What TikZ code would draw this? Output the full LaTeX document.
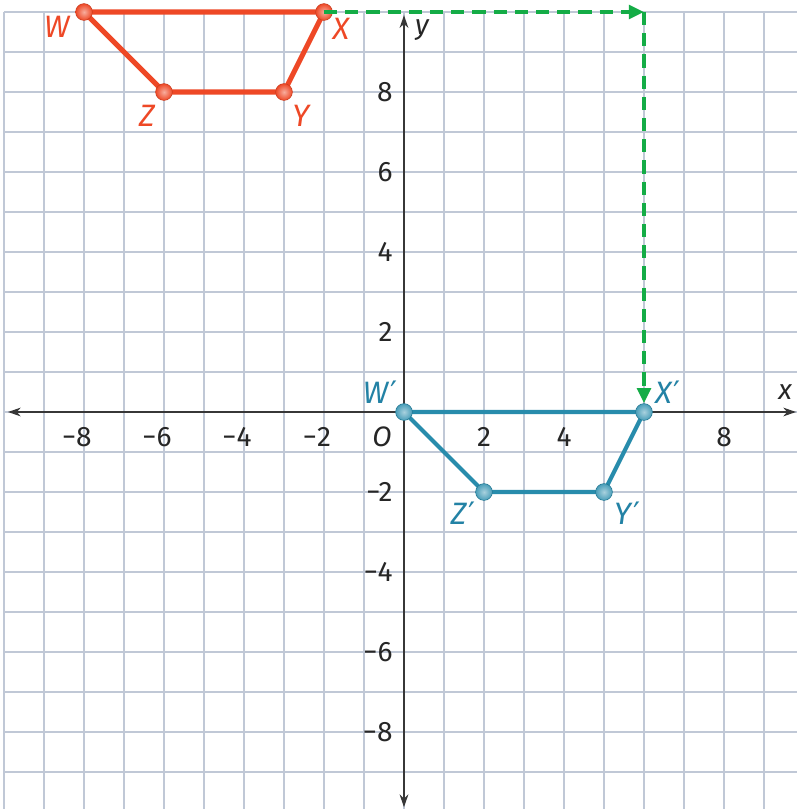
\documentclass[tikz,border=0pt]{standalone}
\usepackage{fontspec}
\setmainfont{Fira Sans}
\newfontfamily\primefont{DejaVu Sans}
\usetikzlibrary{arrows.meta}
\definecolor{redc}{RGB}{238,72,38}
\definecolor{tealc}{RGB}{40,140,172}
\definecolor{tealt}{RGB}{35,130,165}
\definecolor{greenc}{RGB}{20,172,70}
\definecolor{gridc}{RGB}{192,200,214}
\definecolor{axisc}{RGB}{55,55,55}
\newcommand{\prm}{\kern1.5pt{\primefont\upshape ′}}
\tikzset{
  gridline/.style={draw=gridc, line width=1.3pt},
  axisline/.style={draw=axisc, line width=1.1pt, {Stealth[length=0.32cm,width=0.22cm]}-{Stealth[length=0.32cm,width=0.22cm]}},
  ticklab/.style={font=\fontsize{20}{24}\selectfont, text=black!85, inner sep=0pt},
  redline/.style={draw=redc, line width=3.6pt, line join=round},
  tealline/.style={draw=tealc, line width=3pt, line join=round},
  reddot/.style={circle, inner sep=0pt, minimum size=0.42cm, draw=redc!85!black, line width=0.4pt, shading=radial, inner color=redc!45!white, outer color=redc},
  tealdot/.style={circle, inner sep=0pt, minimum size=0.42cm, draw=tealc!85!black, line width=0.4pt, shading=radial, inner color=tealc!40!white, outer color=tealc!85!white},
  redlab/.style={font=\fontsize{22}{24}\selectfont\itshape, text=redc, inner sep=0pt},
  teallab/.style={font=\fontsize{22}{24}\selectfont\itshape, text=tealt, inner sep=0pt},
  axlab/.style={font=\fontsize{20}{24}\selectfont\itshape, text=black!85, inner sep=0pt},
  greenarrow/.style={draw=greenc, line width=2.8pt, dash pattern=on 0.33cm off 0.2cm, -{Triangle[length=0.38cm,width=0.34cm]}}
}
\begin{document}
\begin{tikzpicture}
\useasboundingbox (-10.1,-9.925) rectangle (9.825,10.3);
\fill[white] (-10.1,-9.925) rectangle (9.825,10.3);
% grid
\draw[gridline] (-10,-9.925) grid (9.825,10);
% axes
\coordinate (xl) at (-9.9,0);
\coordinate (xr) at (9.8,0);
\coordinate (yb) at (0,-9.88);
\coordinate (yt) at (0,9.92);
\draw[axisline] (xl) -- (xr);
\draw[axisline] (yb) -- (yt);
\node[axlab] (xlab) at (9.53,0.5) {x};
\node[axlab] (ylab) at (0.45,9.55) {y};
% tick labels
\foreach \v/\t in {-8/\llap{−}8,-6/\llap{−}6,-4/\llap{−}4,-2/\llap{−}2,2/2,4/4,8/8}
  \node[ticklab] (xt\v) at (\v,-0.63) {\t};
\node[ticklab, font=\fontsize{20}{24}\selectfont\itshape] (O) at (-0.55,-0.63) {O};
\foreach \v/\t in {8/8,6/6,4/4,2/2,-2/−2,-4/−4,-6/−6,-8/−8}
  \node[ticklab, anchor=east] (yt\v) at (-0.28,\v) {\t};
% original figure
\coordinate (W) at (-8,10);
\coordinate (X) at (-2,10);
\coordinate (Y) at (-3,8);
\coordinate (Z) at (-6,8);
\draw[redline] (W) -- (X) -- (Y) -- (Z) -- cycle;
\node[reddot] (Wd) at (W) {};
\node[reddot] (Xd) at (X) {};
\node[reddot] (Yd) at (Y) {};
\node[reddot] (Zd) at (Z) {};
\node[redlab] (Wl) at (-8.68,9.63) {W};
\node[redlab] (Xl) at (-1.58,9.58) {X};
\node[redlab] (Yl) at (-2.58,7.4) {Y};
\node[redlab] (Zl) at (-6.43,7.4) {Z};
% image figure
\coordinate (Wp) at (0,0);
\coordinate (Xp) at (6,0);
\coordinate (Yp) at (5,-2);
\coordinate (Zp) at (2,-2);
\draw[tealline] (Wp) -- (Xp) -- (Yp) -- (Zp) -- cycle;
\node[tealdot] (Wpd) at (Wp) {};
\node[tealdot] (Xpd) at (Xp) {};
\node[tealdot] (Ypd) at (Yp) {};
\node[tealdot] (Zpd) at (Zp) {};
\node[teallab] (Wpl) at (-0.6,0.5) {W\prm};
\node[teallab] (Xpl) at (6.6,0.5) {X\prm};
\node[teallab] (Ypl) at (5.58,-2.53) {Y\prm};
\node[teallab] (Zpl) at (1.48,-2.53) {Z\prm};
% translation arrows
\coordinate (corner) at (6,10);
\draw[greenarrow] (X) -- (corner);
\draw[greenarrow] (corner) -- (Xpd);
\end{tikzpicture}
\end{document}
